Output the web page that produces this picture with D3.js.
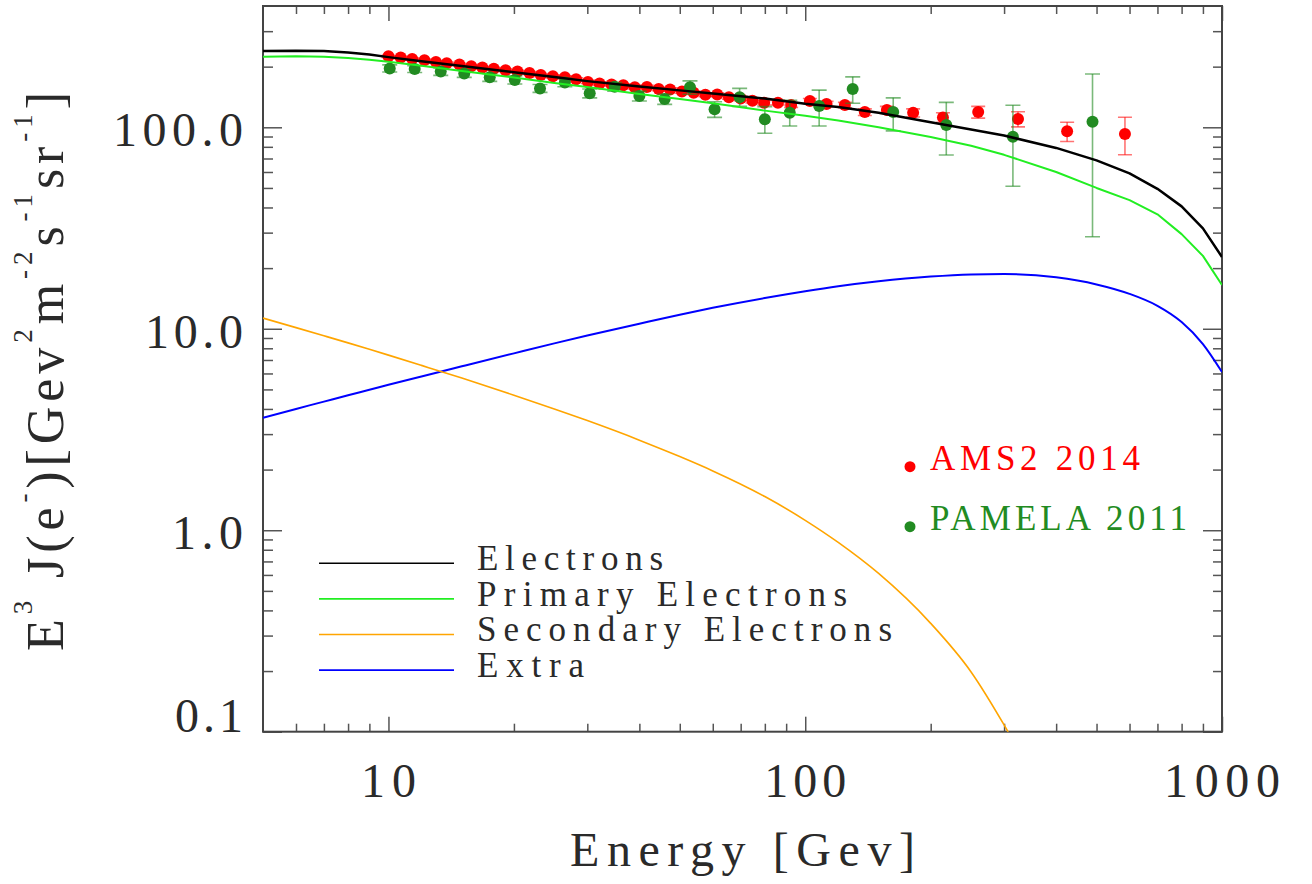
<!DOCTYPE html>
<html>
<head>
<meta charset="utf-8">
<script src="https://cdn.jsdelivr.net/npm/d3@7"></script>
<style>
body { margin: 0; background: #fff; }
text { font-family: "Liberation Serif", serif; }
</style>
</head>
<body>
<svg id="chart" width="1312" height="884"></svg>
<script>
// model curves (E^3 J)
var curveE = [5, 6, 7, 8, 9, 10, 12, 15, 20, 25, 30, 40, 50, 60, 80, 100, 120, 150, 200, 250, 300, 400, 500, 600, 700, 800, 900, 1000];
var electrons = [239, 240, 239, 235, 230, 223, 213, 201.5, 187.5, 177.5, 169.5, 159.5, 152.5, 147, 139, 131, 126, 118, 106, 97.5, 91, 79, 68.5, 59, 49.5, 40.5, 31.5, 22.7];
var primary = [224, 225, 224, 221, 216.5, 211.5, 202, 190.5, 176.5, 166, 158.5, 146.5, 138, 131.5, 121, 114, 108, 100, 89.5, 81, 73, 60, 50, 43.5, 37, 29.5, 23, 16.5];
var secondaryE = [5, 6, 7, 8, 9, 10, 12, 15, 20, 25, 30, 40, 50, 60, 80, 100, 120, 150, 200, 250, 300, 400];
var secondary = [11.3, 10.13, 9.23, 8.51, 7.91, 7.40, 6.58, 5.69, 4.68, 4.00, 3.50, 2.80, 2.32, 1.97, 1.47, 1.12, 0.87, 0.61, 0.345, 0.198, 0.108, 0.035];
var extra = [3.62, 4.0, 4.35, 4.68, 4.98, 5.27, 5.80, 6.51, 7.55, 8.46, 9.25, 10.6, 11.75, 12.7, 14.2, 15.35, 16.25, 17.2, 18.15, 18.6, 18.7, 18.0, 16.6, 14.9, 13.0, 10.8, 8.4, 6.1];

// AMS2 2014
var amsE = [10.0, 10.7, 11.4, 12.2, 13.0, 13.8, 14.8, 15.8, 16.8, 17.9, 19.1, 20.4, 21.8, 23.2, 24.8, 26.5, 28.2, 30.1, 32.1, 34.3, 36.6, 39.0, 41.7, 44.5, 47.4, 50.6, 54.0, 57.6, 61.5, 65.6, 70.0, 74.7, 79.7, 86.0, 92.5, 102.6, 112.5, 124.5, 139, 157, 181.5, 214, 260, 324, 425, 585];
var amsFlux = [225, 222, 218, 215, 211, 208, 205, 201, 198, 195, 192, 189, 186, 182, 179, 177, 173, 168, 165, 163, 161.5, 158, 158.5, 155, 154, 150.5, 148.5, 145, 145.5, 141, 139, 135.5, 132.5, 132.5, 129, 135, 130.5, 129, 119, 122, 118, 112, 119, 110, 95.5, 92.6];
var amsErr = [3, 3, 3, 3, 3, 3, 3, 3, 3, 3, 3, 3, 3, 3, 3, 3, 3, 3, 3, 3, 3, 3, 3, 3, 3, 3, 3, 3, 3, 3, 3.5, 3.5, 3.5, 3.5, 3.5, 4, 4, 4, 4.5, 5, 5.5, 6, 8, 9.5, 10.5, 19.5];

// PAMELA 2011
var pamE = [10.07, 11.56, 13.35, 15.2, 17.5, 20.1, 23.1, 26.5, 30.4, 34.9, 40.0, 46.0, 52.9, 60.6, 69.6, 80.0, 91.8, 108, 130, 162.6, 218, 315, 489];
var pamFlux = [196, 194.5, 189, 185, 177, 171.7, 156, 167, 147.6, 159, 143, 138, 158, 123, 141, 109.6, 118.2, 127.6, 155, 119, 102.6, 89.8, 106.6];
var pamLo = [188, 187, 181, 177, 169, 164, 149, 159, 140, 151, 135, 130, 146, 112, 127, 93.4, 101.5, 101.5, 131.6, 96, 72.9, 51, 28.6];
var pamHi = [204, 202, 197, 193, 185, 180, 163, 175, 155, 167, 151, 146, 170, 134, 156, 126.6, 136, 153, 178, 140, 133, 128.6, 184];

// ticks
var xMajor = [10, 100, 1000];
var xMajorLabels = ["10", "100", "1000"];
var xMinor = [6, 7, 8, 9, 20, 30, 40, 50, 60, 70, 80, 90, 200, 300, 400, 500, 600, 700, 800, 900];
var yMajor = [0.1, 1, 10, 100];
var yMajorLabels = ["0.1", "1.0", "10.0", "100.0"];
var yMinor = [0.2, 0.3, 0.4, 0.5, 0.6, 0.7, 0.8, 0.9, 2, 3, 4, 5, 6, 7, 8, 9, 20, 30, 40, 50, 60, 70, 80, 90, 200, 300];

var legendNames = ["Electrons", "Primary Electrons", "Secondary Electrons", "Extra"];
var legendColors = ["#000000", "#22ee22", "#ffa500", "#0000ff"];

var pleft = 263, pright = 1222, ptop = 6, pbottom = 731.7;
var textColor = "#2a2a2a";

var svg = d3.select("#chart");

var x = d3.scaleLog().domain([5, 1000]).range([pleft, pright]);
var y = d3.scaleLog().domain([0.1, 400]).range([pbottom, ptop]);

svg.append("defs").append("clipPath").attr("id", "plotclip")
    .append("rect")
    .attr("x", pleft).attr("y", ptop)
    .attr("width", pright - pleft).attr("height", pbottom - ptop);

// ticks on all four sides, pointing inwards
function tickAxis(axis, tx, ty, vals, size) {
    var g = svg.append("g")
        .attr("transform", "translate(" + tx + "," + ty + ")")
        .call(axis.tickValues(vals).tickSize(-size).tickFormat(""));
    g.select(".domain").remove();
    g.selectAll(".tick line").attr("stroke", "#555").attr("stroke-width", 1.5);
}
tickAxis(d3.axisBottom(x), 0, pbottom, xMajor, 15);
tickAxis(d3.axisBottom(x), 0, pbottom, xMinor, 8);
tickAxis(d3.axisTop(x), 0, ptop, xMajor, 15);
tickAxis(d3.axisTop(x), 0, ptop, xMinor, 8);
tickAxis(d3.axisLeft(y), pleft, 0, yMajor, 19);
tickAxis(d3.axisLeft(y), pleft, 0, yMinor, 10);
tickAxis(d3.axisRight(y), pright, 0, yMajor, 19);
tickAxis(d3.axisRight(y), pright, 0, yMinor, 9);

svg.append("rect")
    .attr("x", pleft).attr("y", ptop)
    .attr("width", pright - pleft).attr("height", pbottom - ptop)
    .attr("fill", "none").attr("stroke", "#444").attr("stroke-width", 2);

// tick labels
var yLabW = [68, 71, 98, 130];
svg.selectAll(".ylab").data(yMajor).enter().append("text")
    .attr("class", "ylab")
    .attr("x", 243)
    .attr("y", function(d) { return Math.min(y(d) + 19, pbottom); })
    .attr("text-anchor", "end")
    .attr("textLength", function(d, i) { return yLabW[i]; })
    .attr("lengthAdjust", "spacing")
    .style("font-size", "48px")
    .attr("fill", textColor)
    .text(function(d, i) { return yMajorLabels[i]; });

var xLabW = [55, 82, 116];
svg.selectAll(".xlab").data(xMajor).enter().append("text")
    .attr("class", "xlab")
    .attr("x", function(d) { return x(d); })
    .attr("y", 797)
    .attr("text-anchor", "middle")
    .attr("textLength", function(d, i) { return xLabW[i]; })
    .attr("lengthAdjust", "spacing")
    .style("font-size", "48px")
    .attr("fill", textColor)
    .text(function(d, i) { return xMajorLabels[i]; });

// axis titles
svg.append("text")
    .attr("x", (pleft + pright) / 2)
    .attr("y", 866)
    .attr("text-anchor", "middle")
    .attr("textLength", 345)
    .attr("lengthAdjust", "spacing")
    .style("font-size", "48px")
    .attr("fill", textColor)
    .text("Energy [Gev]");

var yTitle = [["E", 0], ["3", 1], [" J(e", 0], ["-", 1], [")[Gev", 0], ["2", 1], ["m", 0], ["-2", 1], ["s", 0], ["-1", 1], ["sr", 0], ["-1", 1], ["]", 0]];
var ytext = svg.append("text")
    .attr("transform", "translate(63,651) rotate(-90)")
    .attr("textLength", 559)
    .attr("lengthAdjust", "spacing")
    .style("font-size", "52px")
    .attr("fill", textColor);
var raised = false;
yTitle.forEach(function(p) {
    var t = ytext.append("tspan").text(p[0]);
    if (p[1] && !raised) { t.attr("dy", -31); raised = true; }
    else if (!p[1] && raised) { t.attr("dy", 31); raised = false; }
    if (p[1]) t.style("font-size", "27px");
});

var plot = svg.append("g").attr("clip-path", "url(#plotclip)");

var ams = amsE.map(function(e, i) { return {e: e, v: amsFlux[i], lo: amsFlux[i] - amsErr[i], hi: amsFlux[i] + amsErr[i]}; });
var pam = pamE.map(function(e, i) { return {e: e, v: pamFlux[i], lo: pamLo[i], hi: pamHi[i]}; });

function errorBars(data, color, cap) {
    var g = plot.append("g").attr("stroke", color).attr("stroke-width", 1.6);
    g.selectAll(".v").data(data).enter().append("line")
        .attr("x1", function(d) { return x(d.e); }).attr("x2", function(d) { return x(d.e); })
        .attr("y1", function(d) { return y(d.lo); }).attr("y2", function(d) { return y(d.hi); });
    ["lo", "hi"].forEach(function(k) {
        g.selectAll(".c" + k).data(data).enter().append("line")
            .attr("x1", function(d) { return x(d.e) - cap; }).attr("x2", function(d) { return x(d.e) + cap; })
            .attr("y1", function(d) { return y(d[k]); }).attr("y2", function(d) { return y(d[k]); });
    });
}

errorBars(ams, "rgba(255,0,0,0.55)", 7);
plot.append("g").selectAll("circle").data(ams).enter().append("circle")
    .attr("cx", function(d) { return x(d.e); })
    .attr("cy", function(d) { return y(d.v); })
    .attr("r", 6)
    .attr("fill", "#ff0000");

errorBars(pam, "rgba(34,139,34,0.6)", 7.5);
plot.append("g").selectAll("circle").data(pam).enter().append("circle")
    .attr("cx", function(d) { return x(d.e); })
    .attr("cy", function(d) { return y(d.v); })
    .attr("r", 6)
    .attr("fill", "#228b22");

// model curves
function curve(es, vs, color, w, smooth) {
    var line = d3.line()
        .x(function(d) { return x(d[0]); })
        .y(function(d) { return y(d[1]); })
        .curve(smooth ? d3.curveMonotoneX : d3.curveLinear);
    plot.append("path")
        .datum(es.map(function(e, i) { return [e, vs[i]]; }))
        .attr("d", line)
        .attr("fill", "none")
        .attr("stroke", color)
        .attr("stroke-width", w)
        .attr("stroke-linejoin", "round");
}
curve(curveE, extra, legendColors[3], 2, true);
curve(secondaryE, secondary, legendColors[2], 1.6, true);
curve(curveE, primary, legendColors[1], 2, false);
curve(curveE, electrons, legendColors[0], 2.5, false);

// legend
var legW = [186, 370, 415, 107];
var leg = svg.selectAll(".legend").data(legendNames).enter().append("g")
    .attr("class", "legend")
    .attr("transform", function(d, i) { return "translate(0," + (563.3 + i * 35.6) + ")"; });
leg.append("line")
    .attr("x1", 319).attr("x2", 454)
    .attr("stroke", function(d, i) { return legendColors[i]; })
    .attr("stroke-width", 1.6);
leg.append("text")
    .attr("x", 477)
    .attr("y", 6.7)
    .attr("textLength", function(d, i) { return legW[i]; })
    .attr("lengthAdjust", "spacing")
    .style("font-size", "35px")
    .attr("fill", textColor)
    .text(function(d) { return d; });

// data legend
var dataNames = ["AMS2 2014", "PAMELA 2011"];
var dataColors = ["#ff0000", "#228b22"];
var dataW = [210, 257];
var dleg = svg.selectAll(".dlegend").data(dataNames).enter().append("g")
    .attr("class", "dlegend")
    .attr("transform", function(d, i) { return "translate(0," + (466.7 + i * 60) + ")"; });
dleg.append("circle")
    .attr("cx", 910).attr("r", 5.5)
    .attr("fill", function(d, i) { return dataColors[i]; });
dleg.append("text")
    .attr("x", 930)
    .attr("y", 3.3)
    .attr("textLength", function(d, i) { return dataW[i]; })
    .attr("lengthAdjust", "spacing")
    .style("font-size", "35px")
    .attr("fill", function(d, i) { return dataColors[i]; })
    .text(function(d) { return d; });
</script>
</body>
</html>
